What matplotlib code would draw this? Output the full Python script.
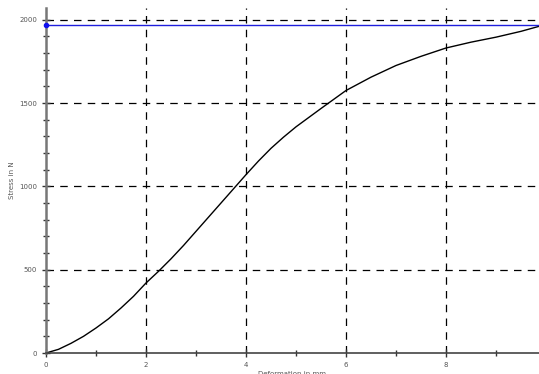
import matplotlib
matplotlib.use("Agg")
import matplotlib.pyplot as plt
import numpy as np

deform = [0, 0.25, 0.5, 0.75, 1.0, 1.25, 1.5, 1.75, 2.0, 2.25, 2.5, 2.75, 3.0, 3.5, 4.0, 4.25, 4.5, 4.75, 5.0, 5.5, 6.0, 6.5, 7.0, 7.5, 8.0, 8.5, 9.0, 9.5, 9.86]
stress = [0, 22, 58, 100, 150, 205, 270, 340, 420, 490, 565, 645, 730, 900, 1070, 1152, 1228, 1295, 1357, 1467, 1575, 1655, 1725, 1780, 1830, 1865, 1895, 1930, 1960]
limit_stress = 1970
xticks = [0, 2, 4, 6, 8]
yticks = [0, 500, 1000, 1500, 2000]

fig = plt.figure(figsize=(5.39, 3.74), dpi=100)
ax = fig.add_axes([46/539, 21/374, 1 - 46/539, 345/374])
ax.plot(deform, stress, color="black", lw=1.0)
ax.axhline(limit_stress, color="#1f1fdd", lw=1.0)
ax.plot([0], [limit_stress], "o", color="#1010ee", ms=3, clip_on=False, zorder=5)

ax.set_xlim(0, 9.86)
ax.set_ylim(0, 2070)
ax.set_xticks(xticks)
ax.set_yticks(yticks)
ax.set_xticks(np.arange(0, 10, 1), minor=True)
ax.set_yticks(np.arange(0, 2001, 100), minor=True)
for v in xticks[1:]:
    ax.axvline(v, color="black", lw=0.9, ls=(0, (6, 5)), zorder=1)
for v in yticks[1:]:
    ax.axhline(v, color="black", lw=0.9, ls=(0, (6, 5)), zorder=1)

for s in ["top", "right"]:
    ax.spines[s].set_visible(False)
ax.spines["left"].set_color("#777777")
ax.spines["left"].set_linewidth(1.8)
ax.spines["bottom"].set_color("#444444")
ax.spines["bottom"].set_linewidth(1.2)
ax.tick_params(which="both", direction="inout", colors="#333333", labelcolor="#555555", labelsize=5)
ax.tick_params(which="major", length=6, width=1)
ax.tick_params(which="minor", length=4, width=1)
ax.tick_params(axis="y", pad=3.5)
ax.set_xlabel("Deformation in mm", fontsize=5, color="#555555", labelpad=2)
ax.set_ylabel("Stress in N", fontsize=5, color="#555555", labelpad=2.5)
fig.savefig("out.png", dpi=100)
